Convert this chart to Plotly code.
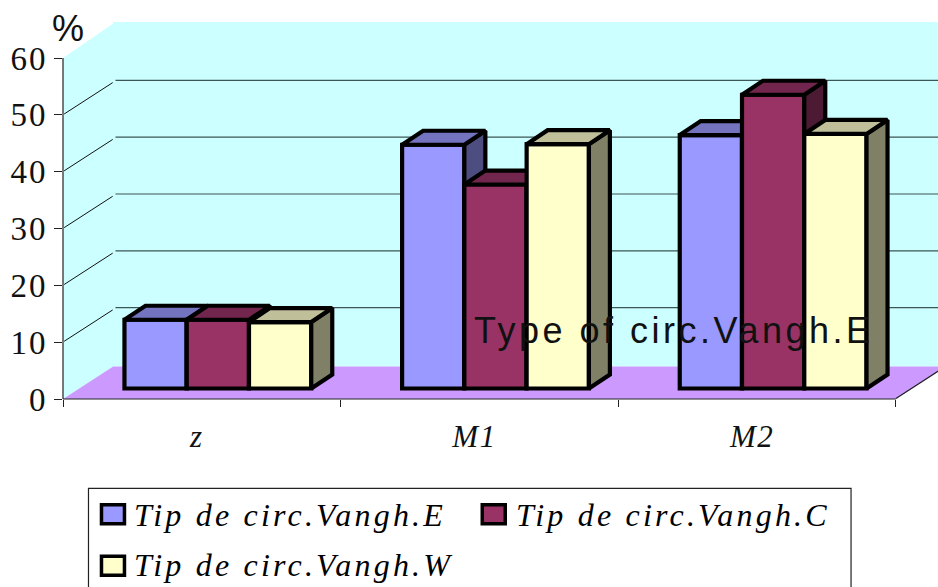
import plotly.graph_objects as go

# ---- data ----
categories = ["z", "M1", "M2"]
series_names = ["Tip de circ.Vangh.E", "Tip de circ.Vangh.C", "Tip de circ.Vangh.W"]
values_E = [12.1, 42.9, 44.6]
values_C = [12.1, 35.9, 51.7]
values_W = [11.7, 43.0, 44.8]
y_ticks = [0, 10, 20, 30, 40, 50, 60]
note_text = "Type of circ.Vangh.E"
unit_text = "%"

# ---- style ----
front_colors = ["#9999FF", "#993366", "#FFFFCC"]
top_colors = ["#7373BF", "#73264D", "#BFBF99"]
side_colors = ["#4D4D80", "#4D1A33", "#808066"]
WALL = "#CCFFFF"
FLOOR = "#CC99FF"
W, H = 938, 587
L, T, B = 62.5, 22, 399.5
PX_X = 277.8   # px per category
PX_Y = 5.69    # px per value unit
xmax = (W - L) / PX_X
ymax = (B - T) / PX_Y
bar_w = 62.3 / PX_X
bar_start = (124 - L) / PX_X
bar_base = 10.5 / PX_Y
dx, dy = 21 / PX_X, 14 / PX_Y
wall_dx, wall_dy = 52.5 / PX_X, 34 / PX_Y
floor_dy = 32.5 / PX_Y
floor_dx = wall_dx * floor_dy / wall_dy
EDGE = 4.2


def sx(v):
    return (v - L) / (W - L)


def sy(v):
    return (B - v) / (B - T)


def spaced(t, s):
    return f'<span style="letter-spacing:{s}px">{t}</span>'


fig = go.Figure()
all_values = [values_E, values_C, values_W]
for j, (name, vals) in enumerate(zip(series_names, all_values)):
    sfx = "" if j == 0 else str(j + 1)
    xa, ya = "x" + sfx, "y" + sfx
    lefts = [i + bar_start + j * bar_w for i in range(len(vals))]
    fig.add_trace(go.Bar(
        x=[l + bar_w / 2 for l in lefts], y=vals, base=bar_base, width=bar_w, name=name,
        marker=dict(color=front_colors[j], line=dict(color="black", width=EDGE)),
        xaxis=xa, yaxis=ya, showlegend=False))
    for l, v in zip(lefts, vals):
        r = l + bar_w
        t = bar_base + v
        fig.add_trace(go.Scatter(
            x=[r, r + dx, r + dx, r, r], y=[bar_base, bar_base + dy, t + dy, t, bar_base],
            mode="lines", fill="toself", fillcolor=side_colors[j],
            line=dict(color="black", width=EDGE), xaxis=xa, yaxis=ya,
            showlegend=False, hoverinfo="skip"))
        fig.add_trace(go.Scatter(
            x=[l, l + dx, r + dx, r, l], y=[t, t + dy, t + dy, t, t],
            mode="lines", fill="toself", fillcolor=top_colors[j],
            line=dict(color="black", width=EDGE), xaxis=xa, yaxis=ya,
            showlegend=False, hoverinfo="skip"))

shapes = []
# walls and floor
shapes.append(dict(type="rect", layer="below", xref="x", yref="y", x0=floor_dx, x1=xmax,
                   y0=floor_dy, y1=ymax, fillcolor=WALL, line_width=0))
shapes.append(dict(type="path", layer="below", xref="x", yref="y",
                   path=f"M 0 0 L {wall_dx} {wall_dy} L {wall_dx} {ymax} L 0 60 Z",
                   fillcolor=WALL, line_width=0))
shapes.append(dict(type="path", layer="below", xref="x", yref="y",
                   path=f"M 0 0 L {floor_dx} {floor_dy} L {3 + floor_dx} {floor_dy} L 3 0 Z",
                   fillcolor=FLOOR, line_width=0))
# gridlines
for v in y_ticks[1:-1]:
    shapes.append(dict(type="line", layer="below", xref="x", yref="y", x0=0.004, x1=wall_dx - 0.01,
                       y0=v + 0.15, y1=v + wall_dy - 0.3, line=dict(color="#111111", width=1)))
    shapes.append(dict(type="line", layer="below", xref="x", yref="y", x0=wall_dx, x1=xmax,
                       y0=v + wall_dy + 0.1, y1=v + wall_dy + 0.1, line=dict(color="#3C5555", width=1.2)))
# axis lines
ax = dict(color="#222222", width=1.2)
shapes.append(dict(type="line", xref="paper", yref="paper", x0=0, x1=0, y0=0, y1=60 / ymax, line=ax))
shapes.append(dict(type="line", xref="paper", yref="paper", x0=0, x1=3 / xmax, y0=0, y1=0, line=ax))
shapes.append(dict(type="line", xref="x", yref="y", x0=3, x1=3 + floor_dx, y0=0.1, y1=floor_dy + 0.1,
                   layer="below", line=ax))
# legend box and swatches
shapes.append(dict(type="rect", xref="paper", yref="paper", x0=sx(88), x1=sx(851), y0=sy(600), y1=sy(489),
                   fillcolor="white", line=dict(color="#222222", width=1.2)))
swatches = [(101, 505.5), (482, 505.5), (101, 557)]
for (sw_x, sw_y), col in zip(swatches, front_colors):
    shapes.append(dict(type="rect", xref="paper", yref="paper", x0=sx(sw_x), x1=sx(sw_x + 23),
                       y0=sy(sw_y + 19), y1=sy(sw_y), fillcolor=col,
                       line=dict(color="black", width=3.5)))

anns = []
legend_pos = [(132, 516), (514, 516), (132, 566)]
for name, (lx, ly) in zip(series_names, legend_pos):
    anns.append(dict(xref="paper", yref="paper", x=sx(lx), y=sy(ly), xanchor="left", yanchor="middle",
                     text=spaced(name, 3.2), showarrow=False, align="left",
                     font=dict(family="Liberation Serif", size=32, color="black", style="italic")))
anns.append(dict(xref="paper", yref="paper", x=sx(472), y=sy(331), xanchor="left", yanchor="middle",
                 text=spaced(note_text, 3.5), showarrow=False,
                 font=dict(family="Liberation Sans", size=36, color="#111111")))
anns.append(dict(xref="paper", yref="paper", x=sx(68), y=sy(29), xanchor="center", yanchor="middle",
                 text=unit_text, showarrow=False,
                 font=dict(family="Liberation Sans", size=36, color="#111111")))

layout_axis_hidden = dict(visible=False, showgrid=False, zeroline=False)
fig.update_layout(
    width=W, height=H, autosize=False, paper_bgcolor="white", plot_bgcolor="rgba(0,0,0,0)",
    margin=dict(l=L, r=0, t=T, b=H - B, pad=0), barmode="overlay", showlegend=False,
    shapes=shapes, annotations=anns,
    xaxis=dict(range=[0, xmax], showgrid=False, zeroline=False, showline=False,
               tickmode="array", tickvals=[i + 0.482 for i in range(3)],
               ticktext=[spaced(c, 1.5) for c in categories], ticks="", ticklabelstandoff=16,
               minor=dict(tickmode="array", tickvals=[0, 1, 2, 3], ticks="outside", ticklen=7,
                          tickcolor="#222222", tickwidth=1.2, showgrid=False),
               tickfont=dict(family="Liberation Serif", size=31, color="#111111", style="italic")),
    yaxis=dict(range=[0, ymax], showgrid=False, zeroline=False, showline=False,
               tickmode="array", tickvals=y_ticks,
               ticktext=[spaced(v, 2) for v in y_ticks], ticks="outside", ticklen=8,
               tickcolor="#222222", tickwidth=1.2,
               tickfont=dict(family="Liberation Serif", size=33, color="#111111")),
    xaxis2=dict(overlaying="x", anchor="y2", range=[0, xmax], **layout_axis_hidden),
    yaxis2=dict(overlaying="y", anchor="x2", range=[0, ymax], **layout_axis_hidden),
    xaxis3=dict(overlaying="x", anchor="y3", range=[0, xmax], **layout_axis_hidden),
    yaxis3=dict(overlaying="y", anchor="x3", range=[0, ymax], **layout_axis_hidden),
)
fig.write_html("out.html", config=dict(displayModeBar=False),
               post_script="document.body.style.margin='0';document.body.style.overflow='hidden';")
